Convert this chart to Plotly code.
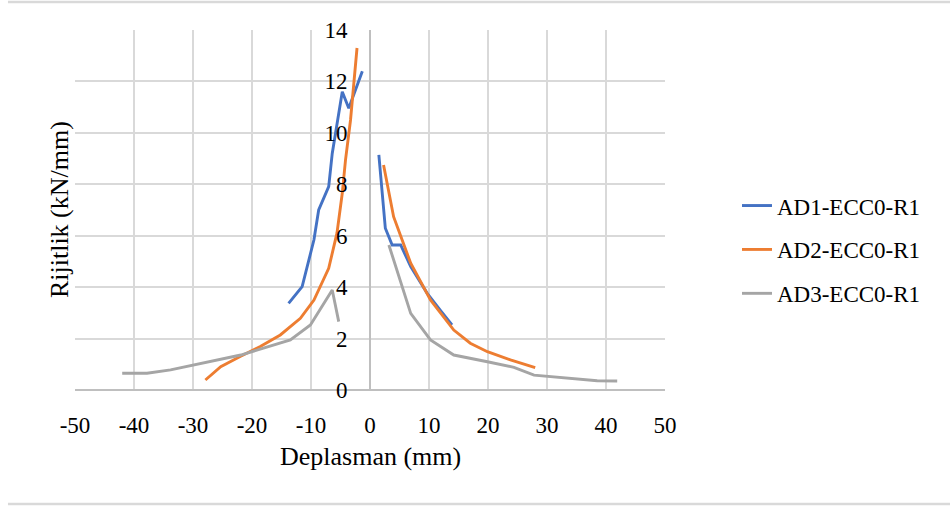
import plotly.graph_objects as go

# Stiffness vs. displacement for three specimens (negative and positive branches)
series_names = ["AD1-ECC0-R1", "AD2-ECC0-R1", "AD3-ECC0-R1"]
series_colors = ["#4472C4", "#ED7D31", "#A5A5A5"]
# both y axes share the same 0-14 scale; one carries the grid, the other the labels on x = 0
series_axes = ["y", "y2", "y2"]

ad1_neg_x = [-13.8, -11.5, -9.5, -8.7, -7.0, -6.4, -4.7, -3.6, -1.3]
ad1_neg_y = [3.37, 4.02, 5.84, 7.0, 7.91, 9.2, 11.6, 10.96, 12.4]
ad1_pos_x = [1.5, 2.6, 3.76, 5.2, 6.9, 9.7, 11.9, 13.9]
ad1_pos_y = [9.14, 6.29, 5.64, 5.64, 4.8, 3.76, 3.11, 2.53]

ad2_neg_x = [-27.9, -25.3, -22.0, -18.6, -15.2, -11.8, -9.5, -7.0, -5.6, -4.7, -4.15, -3.3, -2.2]
ad2_neg_y = [0.39, 0.91, 1.30, 1.69, 2.14, 2.79, 3.5, 4.73, 6.1, 7.65, 8.95, 10.5, 13.3]
ad2_pos_x = [2.3, 4.0, 6.9, 10.25, 14.2, 17.0, 19.9, 23.8, 28.0]
ad2_pos_y = [8.75, 6.74, 4.93, 3.5, 2.33, 1.82, 1.49, 1.17, 0.87]

ad3_neg_x = [-42.0, -37.8, -33.8, -29.9, -21.9, -13.5, -10.1, -6.4, -5.3]
ad3_neg_y = [0.65, 0.65, 0.78, 0.97, 1.36, 1.95, 2.53, 3.89, 2.66]
ad3_pos_x = [3.2, 6.9, 10.25, 14.2, 19.9, 24.4, 27.8, 34.0, 38.5, 41.9]
ad3_pos_y = [5.64, 2.98, 1.95, 1.36, 1.1, 0.88, 0.58, 0.45, 0.36, 0.35]

x_ticks = [-50, -40, -30, -20, -10, 0, 10, 20, 30, 40, 50]
y_ticks = [0, 2, 4, 6, 8, 10, 12, 14]

branches = [
    (ad1_neg_x, ad1_neg_y, ad1_pos_x, ad1_pos_y),
    (ad2_neg_x, ad2_neg_y, ad2_pos_x, ad2_pos_y),
    (ad3_neg_x, ad3_neg_y, ad3_pos_x, ad3_pos_y),
]

FONT = "Liberation Serif"

fig = go.Figure()
for name, color, yax, (nx, ny, px, py) in zip(series_names, series_colors, series_axes, branches):
    fig.add_trace(go.Scatter(
        x=list(nx) + [None] + list(px),
        y=list(ny) + [None] + list(py),
        xaxis="x",
        yaxis=yax,
        mode="lines",
        name=name,
        legendgroup=name,
        connectgaps=False,
        line=dict(color=color, width=2.9),
    ))

fig.update_layout(
    width=950,
    height=506,
    margin=dict(l=75, r=285, t=30, b=116),
    paper_bgcolor="white",
    plot_bgcolor="white",
    font=dict(family=FONT, size=23, color="#000000"),
    showlegend=True,
    legend=dict(
        x=1.122, xanchor="left",
        y=0.572, yanchor="top",
        font=dict(family=FONT, size=23, color="#000000"),
        tracegroupgap=11,
        traceorder="grouped",
        bgcolor="rgba(0,0,0,0)",
    ),
    xaxis=dict(
        range=[-50, 50],
        tickvals=x_ticks,
        ticktext=[str(v) for v in x_ticks],
        showgrid=True, gridcolor="#d9d9d9", gridwidth=1.5,
        zeroline=True, zerolinecolor="#bfbfbf", zerolinewidth=1.5,
        showline=False,
        ticks="outside", ticklen=14, tickcolor="rgba(0,0,0,0)",
        tickfont=dict(family=FONT, size=23),
        fixedrange=True,
    ),
    # base y axis: gridlines across the full plot, no labels
    yaxis=dict(
        range=[0, 14],
        tickvals=y_ticks,
        showticklabels=False,
        showgrid=True, gridcolor="#d9d9d9", gridwidth=1.5,
        zeroline=True, zerolinecolor="#bfbfbf", zerolinewidth=1.5,
        showline=False,
        fixedrange=True,
    ),
    # labelled y axis sitting on x = 0
    yaxis2=dict(
        overlaying="y",
        range=[0, 14],
        anchor="free", position=0.5,
        tickvals=y_ticks,
        ticktext=[str(v) for v in y_ticks],
        showgrid=False, zeroline=False, showline=False,
        ticks="outside", ticklen=18, tickcolor="rgba(0,0,0,0)",
        tickfont=dict(family=FONT, size=23),
        fixedrange=True,
    ),
    annotations=[
        dict(text="Deplasman (mm)", xref="paper", yref="paper",
             x=0.5, y=-0.186, xanchor="center", yanchor="middle",
             showarrow=False, font=dict(family=FONT, size=26)),
        dict(text="Rijitlik (kN/mm)", xref="paper", yref="paper",
             x=-0.027, y=0.5, xanchor="center", yanchor="middle",
             textangle=-90, showarrow=False, font=dict(family=FONT, size=26)),
    ],
    shapes=[
        dict(type="line", xref="paper", yref="paper",
             x0=-0.1136, x1=1.5, y0=1.078, y1=1.078,
             line=dict(color="#d9d9d9", width=2.5)),
        dict(type="line", xref="paper", yref="paper",
             x0=-0.1136, x1=1.5, y0=-0.317, y1=-0.317,
             line=dict(color="#d9d9d9", width=2.5)),
    ],
)

fig.write_html("out.html")
